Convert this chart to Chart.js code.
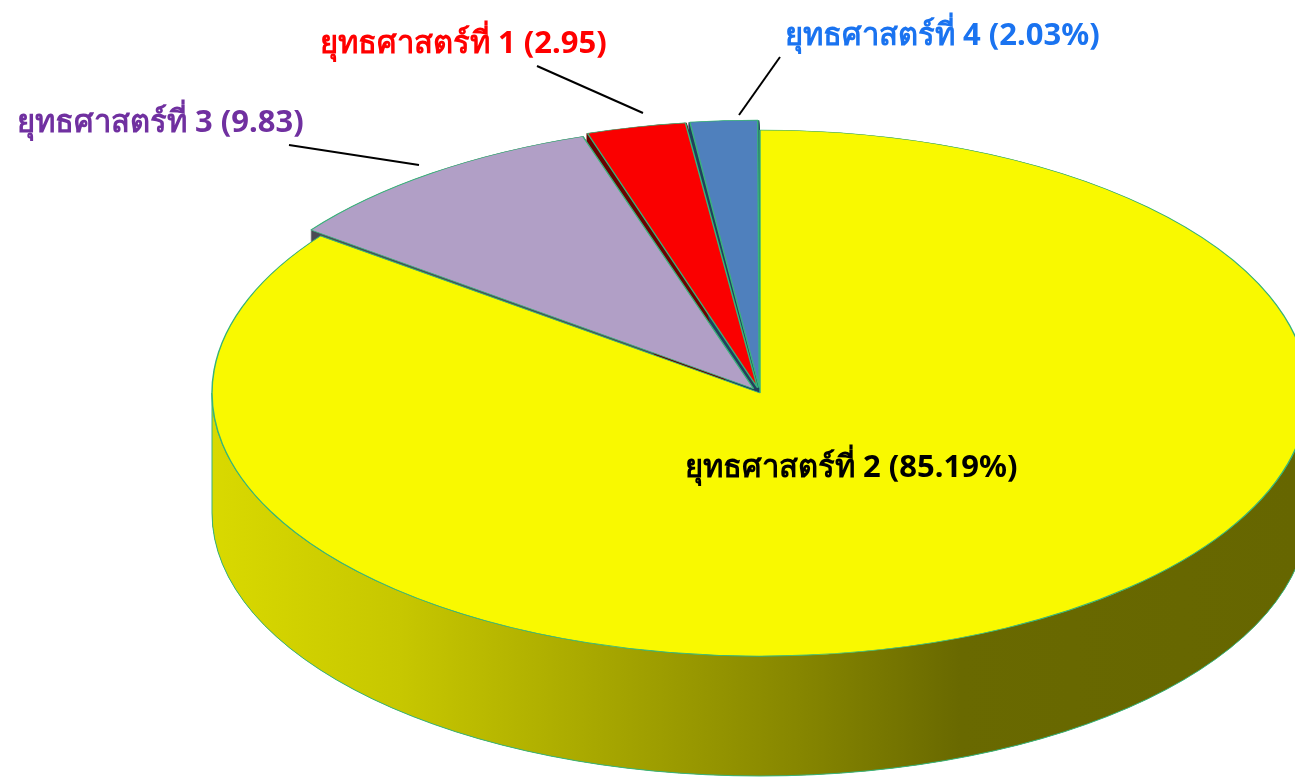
<!DOCTYPE html>
<html>
<head>
<meta charset="utf-8">
<script src="https://cdn.jsdelivr.net/npm/chart.js@4.4.0/dist/chart.umd.min.js"></script>
<style>
  html, body { margin: 0; padding: 0; background: #fff; }
  #wrap { width: 1295px; height: 779px; position: relative; }
</style>
</head>
<body>
<div id="wrap"><canvas id="pieChart"></canvas></div>
<script>
// slices clockwise from 12 o'clock, as they sit in the picture
const labels = ['ยุทธศาสตร์ที่ 2', 'ยุทธศาสตร์ที่ 3', 'ยุทธศาสตร์ที่ 1', 'ยุทธศาสตร์ที่ 4'];
const values = [85.19, 9.83, 2.95, 2.03];
const valueText = ['(85.19%)', '(9.83)', '(2.95)', '(2.03%)'];
const sliceColors = ['#f9f900', '#b19fc6', '#fa0000', '#4f80bd'];
const sideColors = ['#3f5b1f', '#4b4b55', '#6a0000', '#22405e'];
const textColors = ['#000000', '#7030a0', '#ff0000', '#1a73f0'];
const explode = [0, 30, 30, 30];

// ellipse the pie is squashed into, and thickness of the disc
const CX = 760, CY = 393, RX = 548, RY = 263, DEPTH = 120;
const EDGE = '#38b57a';

// label text (left, baseline) and leader lines
const labelPos = [[685, 477], [17, 132], [320, 53], [785, 45]];
const leaders = [null, [[289, 145], [419, 165]], [[537, 66], [643, 113]], [[780, 57], [739, 115]]];

// side shading, left to right
const shade = [[212, 0.87], [400, 0.8], [600, 0.67], [800, 0.54], [960, 0.42], [1295, 0.41]];

function rgb(hex, f) {
  const n = parseInt(hex.slice(1), 16);
  const r = Math.round(((n >> 16) & 255) * f), g = Math.round(((n >> 8) & 255) * f), b = Math.round((n & 255) * f);
  return `rgb(${r},${g},${b})`;
}

const pie3d = {
  id: 'pie3d',
  beforeDatasetsDraw(chart) {
    const ctx = chart.ctx;
    const arcs = chart.getDatasetMeta(0).data;
    const base = arcs[0];
    const R = base.outerRadius;
    const sx = RX / R, sy = RY / R;

    const geo = arcs.map(el => {
      const mid = (el.startAngle + el.endAngle) / 2;
      const o = (el.options.offset || 0) / 4;
      const circ = el.endAngle - el.startAngle;
      const r = R + o * (1 - Math.sin(Math.min(Math.PI, circ)));
      return { x: CX + Math.cos(mid) * o * sx, y: CY + Math.sin(mid) * o * sy, rx: r * sx, ry: r * sy, s: el.startAngle, e: el.endAngle };
    });

    // dark body under each slice (only shows through the gaps)
    geo.forEach((g, i) => {
      ctx.fillStyle = sideColors[i];
      for (let d = 0; d <= DEPTH; d++) {
        ctx.beginPath();
        ctx.moveTo(g.x, g.y + d);
        ctx.ellipse(g.x, g.y + d, g.rx, g.ry, 0, g.s, g.e);
        ctx.closePath();
        ctx.fill();
      }
    });

    // front wall
    geo.forEach((g, i) => {
      [0, 2 * Math.PI].forEach(k => {
        const a0 = Math.max(g.s, k), a1 = Math.min(g.e, k + Math.PI);
        if (a1 <= a0) return;
        const grad = ctx.createLinearGradient(0, 0, chart.width, 0);
        shade.forEach(([px, f]) => grad.addColorStop(px / chart.width, rgb(sliceColors[i], f)));
        ctx.beginPath();
        ctx.ellipse(g.x, g.y, g.rx, g.ry, 0, a0, a1);
        ctx.ellipse(g.x, g.y + DEPTH, g.rx, g.ry, 0, a1, a0, true);
        ctx.closePath();
        ctx.fillStyle = grad;
        ctx.fill();
        ctx.strokeStyle = EDGE;
        ctx.lineWidth = 1;
        ctx.stroke();
      });
    });

    // squash the library's pie into the top ellipse
    ctx.save();
    ctx.translate(CX, CY);
    ctx.scale(sx, sy);
    ctx.translate(-base.x, -base.y);
  },
  afterDatasetsDraw(chart) {
    const ctx = chart.ctx;
    ctx.restore();

    ctx.save();
    ctx.strokeStyle = '#000';
    ctx.lineWidth = 2;
    leaders.forEach(l => {
      if (!l) return;
      ctx.beginPath();
      ctx.moveTo(l[0][0], l[0][1]);
      ctx.lineTo(l[1][0], l[1][1]);
      ctx.stroke();
    });
    ctx.font = 'bold 31px Tahoma, "Noto Sans", "DejaVu Sans", sans-serif';
    ctx.textBaseline = 'alphabetic';
    labels.forEach((lab, i) => {
      ctx.fillStyle = textColors[i];
      ctx.fillText(lab + ' ' + valueText[i], labelPos[i][0], labelPos[i][1]);
    });
    ctx.restore();
  }
};

const ctx = document.getElementById('pieChart').getContext('2d');
new Chart(ctx, {
  type: 'pie',
  data: {
    labels: labels,
    datasets: [{
      data: values,
      backgroundColor: sliceColors,
      borderColor: EDGE,
      borderWidth: 1,
      offset: explode
    }]
  },
  options: {
    responsive: true,
    maintainAspectRatio: false,
    animation: false,
    events: [],
    plugins: {
      legend: { display: false },
      tooltip: { enabled: false }
    }
  },
  plugins: [pie3d]
});
</script>
</body>
</html>
